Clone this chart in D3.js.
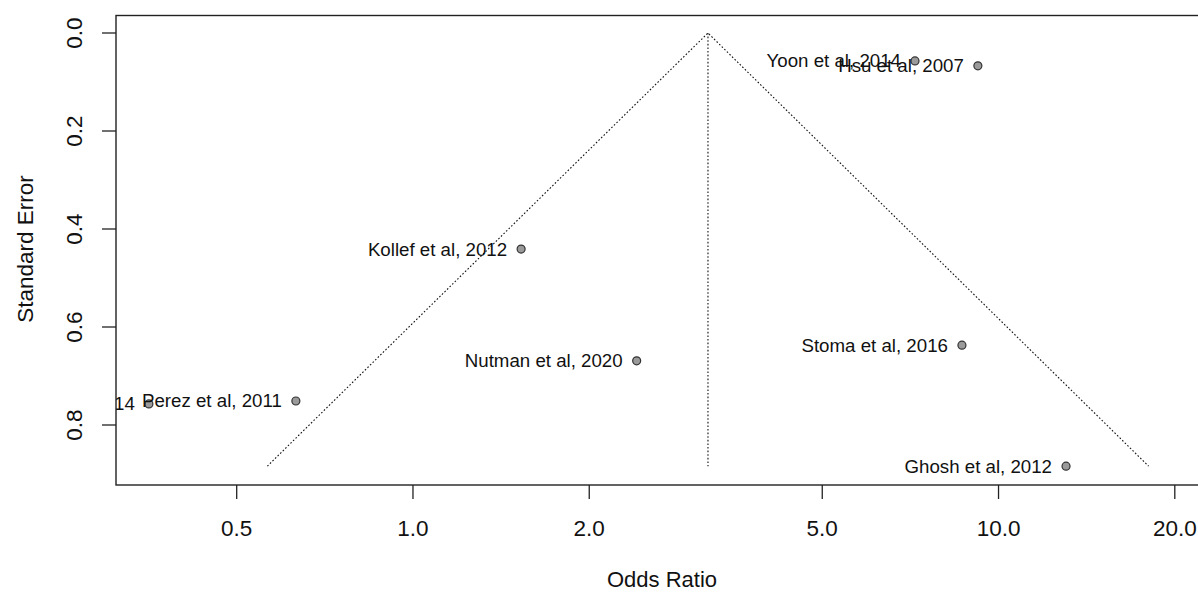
<!DOCTYPE html>
<html>
<head>
<meta charset="utf-8">
<script src="https://cdn.jsdelivr.net/npm/d3@7"></script>
<style>
  html, body { margin: 0; padding: 0; background: #fff; }
  svg { display: block; font-family: "Liberation Sans", Arial, sans-serif; }
</style>
</head>
<body>
<svg id="chart" width="1198" height="592"></svg>
<script>
// ---- data ----
const studies = ["Yoon et al, 2014", "Hsu et al, 2007", "Kollef et al, 2012", "Nutman et al, 2020",
                 "Stoma et al, 2016", "Perez et al, 2011", "Lee et al, 2014", "Ghosh et al, 2012"];
const oddsRatios = [7.20, 9.22, 1.53, 2.41, 8.66, 0.631, 0.354, 13.04];
const stdErrors  = [0.057, 0.067, 0.441, 0.669, 0.637, 0.751, 0.757, 0.884];
const pooledOR = 3.19;
const xTicks = [0.5, 1, 2, 5, 10, 20];
const xTickLabels = ["0.5", "1.0", "2.0", "5.0", "10.0", "20.0"];
const yTicks = [0, 0.2, 0.4, 0.6, 0.8];
const yTickLabels = ["0.0", "0.2", "0.4", "0.6", "0.8"];

// ---- layout ----
const svg = d3.select("#chart");
const box = { left: 116, top: 15.5, right: 1201, bottom: 485 };

const x = d3.scaleLog().domain([0.5, 20]).range([236.7, 1174.8]);
const y = d3.scaleLinear().domain([0, 0.8]).range([33, 425]);

svg.append("defs").append("clipPath").attr("id", "clip")
  .append("rect").attr("x", box.left).attr("y", box.top)
  .attr("width", box.right - box.left).attr("height", box.bottom - box.top);

const plot = svg.append("g").attr("clip-path", "url(#clip)");

// funnel
const seMax = d3.max(stdErrors);
const lo = Math.exp(Math.log(pooledOR) - 1.96 * seMax);
const hi = Math.exp(Math.log(pooledOR) + 1.96 * seMax);
const line = d3.line().x(d => x(d[0])).y(d => y(d[1]));
plot.append("path")
  .attr("d", line([[lo, seMax], [pooledOR, 0], [hi, seMax]]))
  .attr("fill", "none").attr("stroke", "#111").attr("stroke-width", 1.1)
  .attr("stroke-dasharray", "1.6,2");
plot.append("path")
  .attr("d", line([[pooledOR, 0], [pooledOR, seMax]]))
  .attr("fill", "none").attr("stroke", "#111").attr("stroke-width", 1.1)
  .attr("stroke-dasharray", "1.6,2");

// points
const data = studies.map((s, i) => ({ s, or: oddsRatios[i], se: stdErrors[i] }));
plot.selectAll("circle.pt").data(data).enter().append("circle")
  .attr("class", "pt")
  .attr("cx", d => x(d.or)).attr("cy", d => y(d.se)).attr("r", 4)
  .attr("fill", "#9a9a9a").attr("stroke", "#333").attr("stroke-width", 1.2);

// labels
plot.selectAll("text.lab").data(data).enter().append("text")
  .attr("class", "lab")
  .attr("x", d => x(d.or) - 14).attr("y", d => y(d.se) + 6.5)
  .attr("text-anchor", "end")
  .attr("font-size", 18.7).attr("fill", "#111")
  .text(d => d.s);

// box
svg.append("rect").attr("x", box.left).attr("y", box.top)
  .attr("width", box.right - box.left).attr("height", box.bottom - box.top)
  .attr("fill", "none").attr("stroke", "#222").attr("stroke-width", 1.4);

// x axis
const gx = svg.append("g");
gx.selectAll("line").data(xTicks).enter().append("line")
  .attr("x1", d => x(d)).attr("x2", d => x(d))
  .attr("y1", box.bottom).attr("y2", box.bottom + 14)
  .attr("stroke", "#222").attr("stroke-width", 1.3);
gx.selectAll("text").data(xTicks).enter().append("text")
  .attr("x", d => x(d)).attr("y", 536)
  .attr("text-anchor", "middle").attr("font-size", 22.5).attr("fill", "#111")
  .text((d, i) => xTickLabels[i]);

// y axis
const gy = svg.append("g");
gy.selectAll("line").data(yTicks).enter().append("line")
  .attr("x1", box.left - 14).attr("x2", box.left)
  .attr("y1", d => y(d)).attr("y2", d => y(d))
  .attr("stroke", "#222").attr("stroke-width", 1.3);
gy.selectAll("text").data(yTicks).enter().append("text")
  .attr("transform", d => `translate(82,${y(d)}) rotate(-90)`)
  .attr("text-anchor", "middle").attr("font-size", 22.5).attr("fill", "#111")
  .text((d, i) => yTickLabels[i]);

// titles
svg.append("text").attr("x", 662).attr("y", 587)
  .attr("text-anchor", "middle").attr("font-size", 22).attr("fill", "#111")
  .text("Odds Ratio");
svg.append("text").attr("transform", "translate(33,249) rotate(-90)")
  .attr("text-anchor", "middle").attr("font-size", 22.5).attr("fill", "#111")
  .text("Standard Error");
</script>
</body>
</html>
